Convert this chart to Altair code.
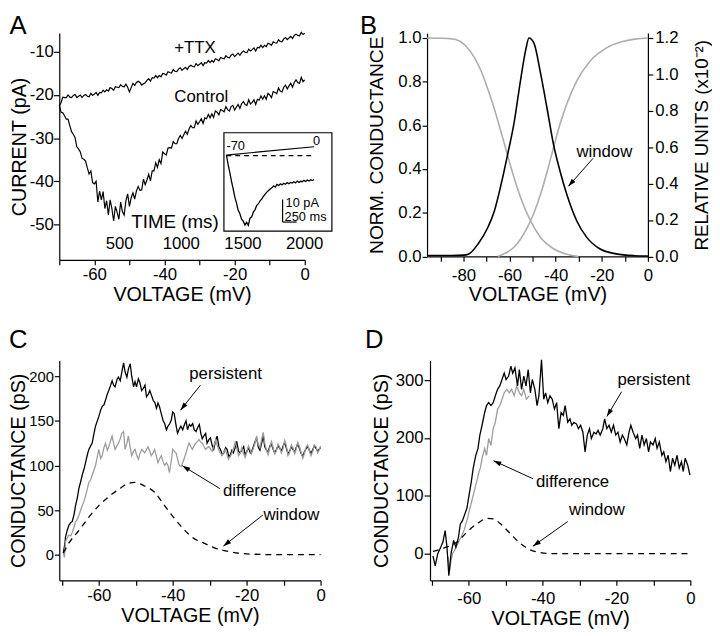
import math
import altair as alt
import pandas as pd

FONT = "Liberation Sans"
GREY_B = "#adadad"
GREY_CD = "#9c9c9c"
HEAD = "M0,0L0.7,2.2L-0.7,2.2Z"
MINUS = "replace(datum.label, '\u2212', '-')"
EVERY20 = "datum.value % 20 == 0 ? " + MINUS + " : ''"

# ---------------- Panel A data ----------------
a_voltage = [round(-70 + 0.5 * i, 1) for i in range(141)]
a_control = [
    -22.3, -24.0, -24.1, -24.8, -25.6, -25.6, -27.1, -28.5, -29.1, -29.9,
    -32.0, -32.5, -33.2, -34.7, -34.9, -35.3, -36.9, -38.3, -37.6, -40.3,
    -40.6, -40.0, -44.8, -42.3, -44.3, -42.4, -46.3, -44.5, -47.8, -44.3,
    -46.3, -49.2, -45.8, -47.2, -48.8, -44.8, -47.0, -47.8, -44.5, -42.9,
    -45.8, -43.8, -42.7, -44.1, -42.2, -41.2, -42.1, -42.0, -39.5, -40.8,
    -39.7, -38.4, -39.9, -37.6, -37.6, -35.7, -36.8, -35.0, -35.9, -33.2,
    -33.6, -33.9, -32.3, -32.2, -32.3, -30.8, -31.3, -31.3, -30.1, -29.4,
    -30.1, -29.2, -28.4, -29.1, -27.9, -27.1, -27.6, -27.6, -26.0, -26.8,
    -26.2, -25.5, -26.6, -25.3, -25.5, -24.5, -25.3, -24.4, -25.2, -23.7,
    -24.0, -24.6, -23.4, -23.6, -23.9, -22.7, -23.4, -23.7, -22.7, -22.4,
    -23.5, -22.8, -22.2, -23.1, -22.0, -21.5, -22.2, -22.4, -21.1, -22.1,
    -21.7, -21.1, -22.2, -21.0, -21.2, -20.2, -21.0, -20.2, -21.0, -19.6,
    -20.0, -20.6, -19.2, -19.4, -19.7, -18.4, -19.1, -19.3, -18.2, -17.7,
    -18.6, -17.9, -17.3, -18.2, -17.1, -16.5, -17.1, -17.3, -15.9, -16.9,
    -16.5,
]
a_ttx = [
    -22.5, -21.8, -20.5, -20.6, -20.6, -20.0, -20.5, -20.6, -20.1, -19.9,
    -20.6, -20.3, -20.0, -20.6, -20.1, -19.9, -20.3, -20.4, -19.6, -20.1,
    -19.8, -19.4, -20.1, -19.4, -19.5, -18.9, -19.3, -18.8, -19.1, -18.3,
    -18.5, -18.9, -18.1, -18.2, -18.3, -17.6, -18.0, -18.1, -17.5, -18.2,
    -19.3, -18.3, -17.3, -17.8, -17.1, -16.8, -17.1, -17.7, -17.4, -17.2,
    -16.6, -16.2, -16.8, -16.0, -16.1, -15.5, -16.0, -15.5, -15.8, -15.0,
    -15.1, -15.4, -14.6, -14.8, -14.9, -14.1, -14.5, -14.6, -14.0, -13.7,
    -14.3, -13.9, -13.6, -14.1, -13.4, -13.1, -13.4, -13.5, -12.7, -13.2,
    -12.9, -12.5, -13.2, -12.5, -12.6, -12.0, -12.5, -12.0, -12.4, -11.6,
    -11.8, -12.1, -11.3, -11.5, -11.6, -10.9, -11.3, -11.4, -10.8, -10.5,
    -11.1, -10.7, -10.3, -10.8, -10.2, -9.8, -10.1, -10.2, -9.4, -9.8,
    -9.5, -9.1, -9.8, -9.0, -9.1, -8.5, -9.0, -8.5, -8.8, -8.0,
    -8.2, -8.5, -7.7, -7.9, -8.0, -7.2, -7.6, -7.7, -7.0, -6.7,
    -7.2, -6.8, -6.4, -6.9, -6.2, -5.9, -6.2, -6.3, -5.5, -6.0,
    -5.7,
]
a_time_ticks = [500, 1000, 1500, 2000]
a_labels = ["+TTX", "Control"]
a_label_v = [-31.3, -29.5]
a_label_i = [-9.1, -20.6]

inset_time = [30 * i for i in range(53)]
inset_current = [
    0.3, -3.9, -7.4, -11.2, -14.6, -18.3, -20.9, -24.1, -25.6, -28.0,
    -28.9, -30.6, -29.4, -30.8, -27.6, -27.0, -24.9, -23.8, -21.9, -21.2,
    -19.9, -19.1, -17.9, -17.0, -16.1, -15.4, -14.7, -14.2, -13.3, -13.9,
    -12.7, -13.2, -12.4, -12.9, -12.2, -12.6, -11.9, -12.4, -11.8, -12.1,
    -11.5, -12.0, -11.2, -11.8, -11.3, -11.5, -10.9, -11.4, -10.8, -11.2,
    -10.6, -11.0, -10.6,
]
inset_cmd_time = [0, 1560]
inset_cmd_mv = [-70, 0]
inset_bar_ms = 250
inset_bar_pa = 10

# ---------------- Panel B data ----------------
b_inact = [(-95.8, 1.0), (-90, 0.999), (-85, 0.996), (-83.7, 0.994), (-79.4, 0.968),
           (-75.1, 0.908), (-72.3, 0.848), (-69.4, 0.765), (-66.6, 0.675), (-63.7, 0.57),
           (-60.9, 0.464), (-58.0, 0.359), (-55.2, 0.269), (-50.9, 0.163), (-46.6, 0.088),
           (-40.9, 0.035), (-35.2, 0.01), (-30.2, 0.0)]
b_act = [(-65.1, 0.0), (-60.9, 0.02), (-58.0, 0.043), (-55.2, 0.08), (-52.3, 0.133),
         (-49.4, 0.2), (-46.6, 0.283), (-43.7, 0.389), (-40.9, 0.5), (-38.1, 0.607),
         (-35.2, 0.698), (-30.9, 0.803), (-25.2, 0.893), (-18.1, 0.954), (-11.0, 0.984),
         (-5.0, 0.996), (0.0, 1.0)]
b_window = [(-95.8, 0.005), (-85, 0.005), (-80, 0.007), (-77.9, 0.012), (-73.6, 0.07),
            (-69.4, 0.16), (-66.6, 0.25), (-63.7, 0.395), (-60.9, 0.557), (-58.0, 0.738),
            (-55.2, 0.972), (-53.0, 1.135), (-51.6, 1.2), (-49.4, 1.171), (-46.6, 1.008),
            (-43.7, 0.81), (-40.9, 0.612), (-38.1, 0.468), (-35.2, 0.341), (-30.9, 0.196),
            (-26.6, 0.106), (-20.9, 0.042), (-13.8, 0.014), (-6.0, 0.004), (0.0, 0.002)]

# ---------------- Panel C data ----------------
c_persistent = [
    (-69.6, 2), (-69.2, 12), (-69.0, 20), (-68.5, 28), (-68.1, 33), (-67.6, 36), (-67.2, 37),
    (-66.7, 45), (-66.3, 55), (-65.8, 64), (-65.4, 74), (-64.9, 82), (-64.5, 89), (-64.0, 96),
    (-63.6, 103), (-63.1, 112), (-62.7, 118), (-62.2, 122), (-61.8, 125), (-61.3, 136),
    (-60.9, 144), (-60.4, 150), (-60.0, 155), (-59.5, 162), (-59.1, 166), (-58.6, 168),
    (-58.2, 173), (-57.7, 180), (-57.3, 184), (-56.8, 190), (-56.4, 195), (-56.0, 190),
    (-55.6, 188), (-55.1, 196), (-54.7, 199), (-54.2, 195), (-53.8, 204), (-53.3, 215),
    (-52.9, 205), (-52.4, 199), (-52.0, 208), (-51.5, 214), (-51.1, 200), (-50.6, 188),
    (-50.2, 194), (-49.8, 188), (-49.3, 197), (-48.9, 193), (-48.4, 184), (-48.0, 186),
    (-47.5, 190), (-47.1, 177), (-46.6, 180), (-46.2, 184), (-45.7, 178), (-45.3, 173),
    (-44.8, 170), (-44.4, 164), (-44.0, 170), (-43.6, 166), (-43.1, 158), (-42.6, 150),
    (-42.2, 147), (-41.7, 140), (-41.3, 144), (-40.8, 147), (-40.4, 151), (-40.0, 160),
    (-39.6, 158), (-39.1, 145), (-38.7, 136), (-38.2, 141), (-37.8, 144), (-37.3, 140),
    (-36.9, 145), (-36.4, 150), (-36.0, 140), (-35.5, 146), (-35.1, 144), (-34.6, 147),
    (-34.2, 140), (-33.7, 138), (-33.3, 142), (-32.8, 146), (-32.4, 136), (-32.0, 130),
    (-31.6, 133), (-31.1, 136), (-30.7, 125), (-30.2, 129), (-29.8, 131), (-29.3, 122),
    (-28.9, 118), (-28.4, 128), (-28.0, 133), (-27.5, 121), (-27.1, 118), (-26.6, 112),
    (-26.2, 114), (-25.7, 120), (-25.3, 118), (-24.8, 110), (-24.4, 112), (-24.0, 117),
    (-23.6, 114), (-23.1, 120), (-22.7, 127), (-22.2, 116), (-21.8, 114), (-21.3, 117),
    (-20.8, 121), (-20.4, 112), (-19.9, 116), (-19.5, 120), (-19.0, 114), (-18.6, 116),
    (-18.1, 122), (-17.7, 127), (-17.3, 131), (-16.8, 120), (-16.4, 117), (-15.9, 126),
    (-15.5, 133), (-15.1, 121), (-14.6, 117), (-14.2, 115), (-13.7, 122), (-13.3, 124),
    (-12.8, 118), (-12.4, 114), (-11.9, 118), (-11.5, 122), (-11.0, 119), (-10.6, 116),
    (-10.2, 121), (-9.7, 126), (-9.3, 120), (-8.8, 113), (-8.4, 116), (-7.9, 121),
    (-7.5, 118), (-7.0, 115), (-6.6, 120), (-6.2, 124), (-5.7, 119), (-5.3, 114),
    (-4.8, 110), (-4.4, 115), (-3.9, 119), (-3.5, 121), (-3.0, 117), (-2.6, 113),
    (-2.1, 118), (-1.7, 122), (-1.2, 119), (-0.8, 116), (-0.4, 118), (0.0, 120)]
c_difference = [
    (-69.6, 2), (-69.3, -3), (-69.0, 15), (-68.5, 19), (-68.1, 22), (-67.6, 21), (-67.2, 25),
    (-66.7, 31), (-66.3, 37), (-65.8, 40), (-65.4, 44), (-64.9, 50), (-64.5, 55), (-64.0, 60),
    (-63.6, 66), (-63.1, 74), (-62.7, 81), (-62.2, 84), (-61.8, 89), (-61.3, 95), (-60.9, 100),
    (-60.4, 110), (-60.0, 118), (-59.5, 108), (-59.1, 111), (-58.6, 120), (-58.2, 125),
    (-57.7, 117), (-57.3, 121), (-56.8, 128), (-56.4, 133), (-56.0, 125), (-55.6, 118),
    (-55.1, 122), (-54.7, 125), (-54.2, 130), (-53.8, 136), (-53.3, 138), (-52.9, 118),
    (-52.4, 125), (-52.0, 133), (-51.5, 120), (-51.1, 111), (-50.6, 116), (-50.2, 118),
    (-49.8, 112), (-49.3, 107), (-48.9, 113), (-48.4, 118), (-48.0, 116), (-47.6, 114),
    (-47.1, 118), (-46.7, 121), (-46.2, 116), (-45.8, 111), (-45.3, 114), (-44.9, 118),
    (-44.4, 110), (-44.0, 103), (-43.6, 107), (-43.1, 111), (-42.6, 104), (-42.2, 100),
    (-41.7, 103), (-41.3, 100), (-40.9, 92), (-40.4, 105), (-40.0, 118), (-39.6, 116),
    (-39.1, 114), (-38.6, 106), (-38.2, 100), (-37.7, 99), (-37.3, 103), (-36.8, 109),
    (-36.4, 114), (-36.0, 120), (-35.6, 125), (-35.1, 121), (-34.7, 118), (-34.2, 122),
    (-33.8, 125), (-33.3, 127), (-32.9, 129), (-32.4, 126), (-32.0, 125), (-31.5, 121),
    (-31.1, 118), (-30.6, 120), (-30.2, 121), (-29.7, 118), (-29.3, 116), (-28.8, 123),
    (-28.4, 129), (-28.0, 123), (-27.6, 118), (-27.1, 114), (-26.7, 111), (-26.2, 115),
    (-25.8, 118), (-25.3, 112), (-24.9, 107), (-24.4, 110), (-24.0, 114), (-23.5, 120),
    (-23.1, 127), (-22.6, 118), (-22.2, 111), (-21.7, 114), (-21.3, 120), (-20.9, 114),
    (-20.4, 109), (-20.0, 115), (-19.5, 122), (-19.1, 118), (-18.7, 113), (-18.2, 119),
    (-17.8, 124), (-17.3, 133), (-16.9, 124), (-16.4, 120), (-16.0, 128), (-15.5, 137),
    (-15.1, 125), (-14.7, 118), (-14.2, 112), (-13.8, 119), (-13.3, 127), (-12.9, 121),
    (-12.4, 113), (-12.0, 116), (-11.5, 124), (-11.1, 121), (-10.6, 114), (-10.2, 118),
    (-9.7, 128), (-9.3, 123), (-8.8, 111), (-8.4, 114), (-7.9, 123), (-7.5, 120),
    (-7.0, 113), (-6.6, 118), (-6.2, 126), (-5.7, 121), (-5.3, 115), (-4.8, 108),
    (-4.4, 113), (-3.9, 121), (-3.5, 123), (-3.0, 116), (-2.6, 111), (-2.1, 116),
    (-1.7, 123), (-1.2, 121), (-0.8, 114), (-0.4, 117), (0.0, 122)]
c_window = [(-69.6, 2), (-68.1, 13), (-65.4, 27), (-62.7, 42), (-60.0, 55), (-57.3, 65),
            (-54.7, 73), (-52.0, 80), (-50.3, 81), (-47.6, 77), (-44.9, 70), (-42.2, 55),
            (-39.6, 41), (-36.9, 28), (-34.2, 18), (-31.6, 13), (-28.9, 8), (-25.3, 4),
            (-21.8, 1.5), (-14.7, 0.2), (-7.0, 0), (0.0, 0)]

# ---------------- Panel D data ----------------
d_persistent = [
    (-69.7, -4), (-69.1, -21), (-68.4, 0), (-67.6, 11), (-67.0, 20), (-66.4, 40), (-65.9, 11),
    (-65.4, -38), (-64.8, 0), (-64.1, 23), (-63.5, 11), (-62.8, 28), (-62.3, 51), (-61.7, 57),
    (-61.1, 68), (-60.5, 79), (-59.9, 102), (-59.3, 125), (-58.8, 148), (-58.1, 170),
    (-57.5, 182), (-57.0, 205), (-56.4, 222), (-55.7, 244), (-55.2, 256), (-54.6, 261),
    (-54.0, 256), (-53.4, 261), (-52.8, 273), (-52.2, 284), (-51.6, 290), (-51.0, 301),
    (-50.4, 312), (-49.9, 301), (-49.2, 307), (-48.6, 324), (-48.1, 312), (-47.5, 321),
    (-46.8, 290), (-46.3, 318), (-45.7, 284), (-45.1, 307), (-44.5, 290), (-43.9, 318),
    (-43.3, 278), (-42.8, 301), (-42.1, 284), (-41.5, 256), (-41.0, 273), (-40.3, 335),
    (-39.7, 267), (-39.2, 278), (-38.6, 261), (-38.0, 273), (-37.4, 267), (-36.8, 250),
    (-36.2, 261), (-35.6, 216), (-35.0, 244), (-34.4, 239), (-33.9, 256), (-33.2, 227),
    (-32.6, 233), (-32.1, 222), (-31.5, 227), (-30.8, 224), (-30.3, 216), (-29.7, 222),
    (-29.1, 210), (-28.5, 176), (-27.9, 205), (-27.3, 216), (-26.8, 199), (-26.1, 210),
    (-25.5, 207), (-25.0, 213), (-24.4, 205), (-23.7, 216), (-23.2, 233), (-22.6, 216),
    (-22.0, 222), (-21.4, 210), (-20.8, 222), (-20.2, 205), (-19.6, 210), (-19.0, 193),
    (-18.4, 205), (-17.9, 199), (-17.2, 188), (-16.6, 210), (-16.1, 222), (-15.5, 210),
    (-14.8, 199), (-14.3, 205), (-13.7, 182), (-13.1, 205), (-12.5, 188), (-11.9, 199),
    (-11.3, 176), (-10.8, 193), (-10.1, 188), (-9.5, 199), (-9.0, 182), (-8.4, 193),
    (-7.7, 170), (-7.2, 176), (-6.6, 159), (-6.0, 170), (-5.4, 142), (-4.8, 165),
    (-4.2, 153), (-3.6, 170), (-3.0, 148), (-2.4, 159), (-1.9, 142), (-1.4, 165),
    (-0.7, 153), (-0.1, 136)]
d_difference = [
    (-65.6, -5), (-65.2, -30), (-64.8, -12), (-64.4, 0), (-63.9, 5), (-63.5, 11), (-63.0, 17),
    (-62.6, 23), (-62.1, 28), (-61.7, 34), (-61.2, 42), (-60.8, 51), (-60.3, 62), (-59.9, 74),
    (-59.4, 85), (-59.0, 96), (-58.5, 108), (-58.1, 119), (-57.6, 131), (-57.2, 142),
    (-56.8, 150), (-56.4, 165), (-55.7, 182), (-55.2, 170), (-54.6, 199), (-54.0, 187),
    (-53.4, 216), (-52.8, 227), (-52.2, 250), (-51.6, 256), (-51.0, 267), (-50.4, 278),
    (-49.7, 284), (-49.0, 278), (-48.4, 284), (-47.7, 273), (-47.0, 290), (-46.3, 278),
    (-45.7, 273), (-45.1, 284), (-44.4, 267), (-43.6, 273)]
d_window = [(-69.7, 4), (-66.6, 10), (-63.0, 21), (-60.4, 38), (-57.7, 52), (-55.0, 61),
            (-53.2, 60), (-51.5, 52), (-48.8, 35), (-46.1, 18), (-43.5, 7), (-40.8, 2),
            (-38.1, 0.3), (-30.0, 0), (0.0, 0)]


# ---------------- helpers ----------------
def sc(lo, hi):
    return alt.Scale(domain=[lo, hi], nice=False, zero=False)


def pairs(data, xname, yname):
    return pd.DataFrame({xname: [p[0] for p in data], yname: [p[1] for p in data]})


def head_angle(x1, y1, x2, y2, sx, sy):
    dx = (x2 - x1) * sx
    dy = -(y2 - y1) * sy
    return math.degrees(math.atan2(dx, -dy)) % 360


def text_layer(df, x, y, size=17, align="center"):
    return alt.Chart(df).mark_text(font=FONT, fontSize=size, align=align,
                                   baseline="middle", color="black").encode(x=x, y=y, text="txt:N")


def arrow_layers(arrows, x, y, xname, yname, sx, sy):
    seg = pd.DataFrame({xname: [a[0] for a in arrows], yname: [a[1] for a in arrows],
                        xname + "2": [a[2] for a in arrows], yname + "2": [a[3] for a in arrows]})
    rule = alt.Chart(seg).mark_rule(color="black", strokeWidth=1).encode(
        x=x, y=y, x2=alt.X2(xname + "2:Q"), y2=alt.Y2(yname + "2:Q"))
    tips = pd.DataFrame({xname: [a[2] for a in arrows], yname: [a[3] for a in arrows],
                         "ang": [head_angle(a[0], a[1], a[2], a[3], sx, sy) for a in arrows]})
    head = alt.Chart(tips).mark_point(shape=HEAD, filled=True, size=52, color="black",
                                      opacity=1, strokeWidth=0).encode(
        x=x, y=y, angle=alt.Angle("ang:Q", scale=None))
    return [rule, head]


def letter(ch, dx, dy):
    return alt.Chart(pd.DataFrame({"txt": [ch]})).mark_text(
        font=FONT, fontSize=26, align="left", baseline="top", color="black").encode(
        x=alt.value(dx), y=alt.value(dy), text="txt:N")


# ---------------- Panel A ----------------
A_W, A_H = 249, 230
sxA = sc(-70, 0)
syA = sc(-58.2, -5.66)
xA = alt.X("V:Q", scale=sxA, axis=alt.Axis(orient="bottom", values=list(range(-70, 1, 10)),
                                           labelExpr=EVERY20, title="VOLTAGE (mV)", tickSize=5,
                                           labelPadding=2, titlePadding=2))
yA = alt.Y("I:Q", scale=syA, axis=alt.Axis(orient="left", values=[-50, -40, -30, -20, -10],
                                           labelExpr=MINUS, title="CURRENT (pA)", tickSize=6,
                                           labelPadding=0, titlePadding=0))
xA0 = alt.X("V:Q", scale=sxA, axis=None)
yA0 = alt.Y("I:Q", scale=syA, axis=None)

dfA = pd.DataFrame({"V": a_voltage + a_voltage, "I": a_control + a_ttx,
                    "trace": ["Control"] * len(a_control) + ["+TTX"] * len(a_ttx)})
a_lines = alt.Chart(dfA).mark_line(color="black", strokeWidth=1.2).encode(x=xA, y=yA, detail="trace:N")
a_txt = text_layer(pd.DataFrame({"V": a_label_v, "I": a_label_i, "txt": a_labels}), xA0, yA0, 17)
a_ttl = text_layer(pd.DataFrame({"V": [-37.0], "I": [-49.5], "txt": ["TIME (ms)"]}), xA0, yA0, 19)

a_time = alt.Chart(pd.DataFrame({"t": a_time_ticks})).mark_point(opacity=0).encode(
    x=alt.X("t:Q", scale=sc(15, 2005),
            axis=alt.Axis(orient="bottom", values=a_time_ticks, format="d", offset=-25,
                          domain=False, ticks=False, tickSize=0, labelPadding=0, title=None)))

st = sc(-2973.7, 1394.7)
si = sc(-45.96, 54.04)
xt = alt.X("t:Q", scale=st, axis=None)
yi = alt.Y("I:Q", scale=si, axis=None)
inset_box = alt.Chart(pd.DataFrame({"t": [-44], "t2": [1877], "I": [10.1], "I2": [-33.3]})).mark_rect(
    fill="white", stroke="black", strokeWidth=1.2).encode(x=xt, x2="t2:Q", y=yi, y2="I2:Q")
inset_trace = alt.Chart(pd.DataFrame({"t": inset_time, "I": inset_current})).mark_line(
    color="black", strokeWidth=1.3).encode(x=xt, y=yi)
inset_base = alt.Chart(pd.DataFrame({"t": inset_cmd_time, "I": [0, 0]})).mark_line(
    color="black", strokeWidth=1.2, strokeDash=[5, 4]).encode(x=xt, y=yi)
bar_t, bar_i = 1000, -29.3
inset_bar = alt.Chart(pd.DataFrame({
    "t": [bar_t, bar_t], "t2": [bar_t, bar_t + inset_bar_ms],
    "I": [bar_i + inset_bar_pa, bar_i], "I2": [bar_i, bar_i]})).mark_rule(
    color="black", strokeWidth=1.2).encode(x=xt, x2="t2:Q", y=yi, y2="I2:Q")
inset_txt_l = text_layer(pd.DataFrame({"t": [0, 1053, 1035], "I": [4.3, -21.0, -27.3],
                                       "txt": ["-70", "10 pA", "250 ms"]}), xt, yi, 13, "left")
inset_txt_c = text_layer(pd.DataFrame({"t": [1605], "I": [6.4], "txt": ["0"]}), xt, yi, 13, "center")
inset_ramp = alt.Chart(pd.DataFrame({"t": inset_cmd_time, "mV": inset_cmd_mv})).mark_line(
    color="black", strokeWidth=1.2).encode(
    x=alt.X("t:Q", scale=st, axis=None), y=alt.Y("mV:Q", scale=sc(-955.8, 960.8), axis=None))

panelA = alt.layer(a_lines, a_txt, a_ttl, a_time, inset_box, inset_trace, inset_base,
                   inset_bar, inset_txt_l, inset_txt_c, inset_ramp, letter("A", -50.6, -20.5)).resolve_scale(
    x="independent", y="independent").properties(width=A_W, height=A_H)

# ---------------- Panel B ----------------
B_W, B_H = 224, 226.5
B_TOP = 1.0226
sxB = sc(-95.8, 0)
syB = sc(0, B_TOP)
xB = alt.X("V:Q", scale=sxB, axis=alt.Axis(orient="bottom", values=list(range(-90, 1, 10)),
                                           labelExpr=EVERY20, title="VOLTAGE (mV)", tickSize=5,
                                           labelPadding=6, titlePadding=2))
yB = alt.Y("G:Q", scale=syB, axis=alt.Axis(orient="left", values=[0, 0.2, 0.4, 0.6, 0.8, 1.0],
                                           format=".1f", title="NORM. CONDUCTANCE", tickSize=5,
                                           labelPadding=1, titlePadding=12, titleFontSize=19.5))
yB0 = alt.Y("G:Q", scale=syB, axis=None)
yBR = alt.Y("W:Q", scale=sc(0, 1.2 * B_TOP),
            axis=alt.Axis(orient="right", values=[0, 0.2, 0.4, 0.6, 0.8, 1.0, 1.2], format=".1f",
                          title="RELATIVE UNITS (x10\u207b\u00b2)", titleAngle=270, titleBaseline="top",
                          tickSize=5, labelPadding=2, titlePadding=15, titleFontSize=19))

dfBg = pd.concat([pairs(b_inact, "V", "G").assign(s="inact"), pairs(b_act, "V", "G").assign(s="act")])
b_grey = alt.Chart(dfBg).mark_line(color=GREY_B, strokeWidth=1.6, interpolate="monotone").encode(
    x=xB, y=yB, detail="s:N")
b_win = alt.Chart(pairs(b_window, "V", "W")).mark_line(color="black", strokeWidth=1.6,
                                                      interpolate="monotone").encode(x=xB, y=yBR)
b_txt = text_layer(pd.DataFrame({"V": [-18.9], "G": [0.48], "txt": ["window"]}), xB, yB0, 17)
b_arrow = arrow_layers([(-23.8, 0.449, -34.5, 0.321)], xB, yB0, "V", "G", B_W / 95.8, B_H / B_TOP)
panelB = alt.layer(b_grey, b_win, b_txt, *b_arrow, letter("B", -68, -20.5)).resolve_scale(
    y="independent").properties(width=B_W, height=B_H)

# ---------------- Panel C ----------------
C_W, C_H = 265, 223
xC = alt.X("V:Q", scale=sc(-70.7, 0), axis=alt.Axis(orient="bottom", values=list(range(-70, 1, 10)),
                                                    labelExpr=EVERY20, title="VOLTAGE (mV)", tickSize=5,
                                                    labelPadding=2, titlePadding=3))
yC = alt.Y("G:Q", scale=sc(-28.7, 217.7), axis=alt.Axis(orient="left", values=[0, 50, 100, 150, 200],
                                                       title="CONDUCTANCE (pS)", tickSize=5,
                                                       labelPadding=1, titlePadding=0, labelFontSize=15))
c_p = alt.Chart(pairs(c_persistent, "V", "G")).mark_line(color="black", strokeWidth=1.3).encode(x=xC, y=yC)
c_d = alt.Chart(pairs(c_difference, "V", "G")).mark_line(color=GREY_CD, strokeWidth=1.3).encode(x=xC, y=yC)
c_w = alt.Chart(pairs(c_window, "V", "G")).mark_line(color="black", strokeWidth=1.3, strokeDash=[6, 5],
                                                    interpolate="monotone").encode(x=xC, y=yC)
c_txt = text_layer(pd.DataFrame({"V": [-25.7, -16.5, -7.9], "G": [202, 71, 44.5],
                                 "txt": ["persistent", "difference", "window"]}), xC, yC, 17)
c_arrows = arrow_layers([(-32.5, 190, -37.9, 162), (-27.2, 74, -37.4, 99.7), (-15.6, 44.5, -26.3, 9.6)],
                        xC, yC, "V", "G", C_W / 70.7, C_H / 246.4)
panelC = alt.layer(c_p, c_d, c_w, c_txt, *c_arrows, letter("C", -51, -34)).properties(width=C_W, height=C_H)

# ---------------- Panel D ----------------
D_W, D_H = 264, 223
xD = alt.X("V:Q", scale=sc(-70.5, 0), axis=alt.Axis(orient="bottom", values=list(range(-70, 1, 10)),
                                                    labelExpr=EVERY20, title="VOLTAGE (mV)", tickSize=5,
                                                    labelPadding=6, titlePadding=2))
yD = alt.Y("G:Q", scale=sc(-46, 334), axis=alt.Axis(orient="left", values=[0, 100, 200, 300],
                                                   title="CONDUCTANCE (pS)", tickSize=6,
                                                   labelPadding=1, titlePadding=4))
d_d = alt.Chart(pairs(d_difference, "V", "G")).mark_line(color=GREY_CD, strokeWidth=1.3).encode(x=xD, y=yD)
d_p = alt.Chart(pairs(d_persistent, "V", "G")).mark_line(color="black", strokeWidth=1.3).encode(x=xD, y=yD)
d_w = alt.Chart(pairs(d_window, "V", "G")).mark_line(color="black", strokeWidth=1.3, strokeDash=[6, 5],
                                                    interpolate="monotone").encode(x=xD, y=yD)
d_txt = text_layer(pd.DataFrame({"V": [-9.9, -31.9, -25.3], "G": [300, 124, 75.5],
                                 "txt": ["persistent", "difference", "window"]}), xD, yD, 17)
d_arrows = arrow_layers([(-18.6, 280, -22.6, 237), (-42.6, 129.5, -53.3, 160.7), (-33.2, 55.6, -42.6, 13)],
                        xD, yD, "V", "G", D_W / 70.5, D_H / 380.0)
panelD = alt.layer(d_d, d_p, d_w, d_txt, *d_arrows, letter("D", -66, -34)).properties(width=D_W, height=D_H)

chart = alt.vconcat(
    alt.hconcat(panelA, panelB, spacing=27),
    alt.hconcat(panelC, panelD, spacing=40),
    spacing=22,
    padding=0,
).configure_axis(
    labelFont=FONT, titleFont=FONT, labelFontSize=17, titleFontSize=20, titleFontWeight="normal",
    labelColor="black", titleColor="black", domainColor="black", tickColor="black",
    domainWidth=1.2, tickWidth=1.2, grid=False, labelFlush=False, labelOverlap=False,
).configure_view(strokeWidth=0)

chart.save("out.html", embed_options={"renderer": "svg", "actions": False})
